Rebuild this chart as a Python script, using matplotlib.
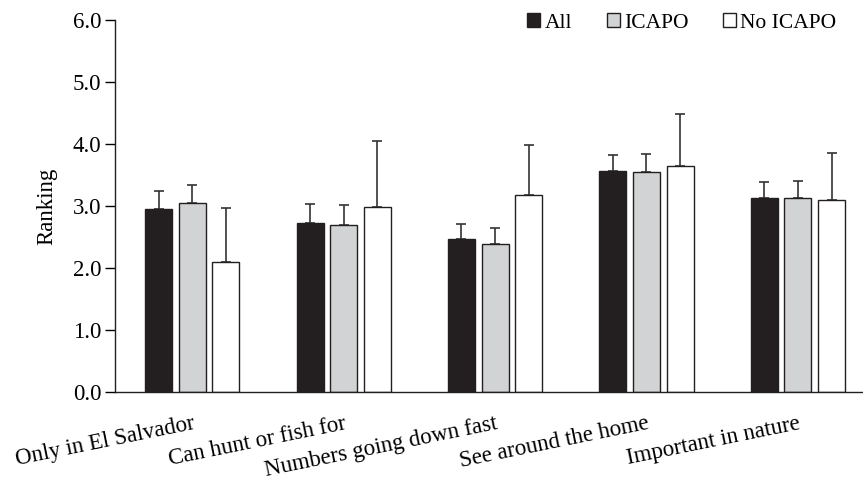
import matplotlib
matplotlib.use("Agg")
import matplotlib.pyplot as plt
import numpy as np

plt.rcParams['font.family'] = ['Liberation Serif', 'DejaVu Serif']

categories = ["Only in El Salvador", "Can hunt or fish for", "Numbers going down fast",
              "See around the home", "Important in nature"]
series_names = ["All", "ICAPO", "No ICAPO"]
all_vals = [2.95, 2.73, 2.47, 3.56, 3.12]
icapo_vals = [3.04, 2.70, 2.38, 3.55, 3.12]
noicapo_vals = [2.09, 2.99, 3.18, 3.64, 3.09]
# upper error bar lengths
all_err = [0.29, 0.30, 0.24, 0.26, 0.26]
icapo_err = [0.30, 0.31, 0.27, 0.29, 0.29]
noicapo_err = [0.87, 1.06, 0.80, 0.85, 0.77]

colors = ["#231f20", "#d1d3d4", "#ffffff"]
fs = 16.5

fig = plt.figure(figsize=(8.63, 4.84), dpi=100)
ax = fig.add_axes([0.1333, 0.19, 0.8667, 0.769])

x = np.arange(len(categories))
width = 0.178
step = 0.222
vals = [all_vals, icapo_vals, noicapo_vals]
errs = [all_err, icapo_err, noicapo_err]
for i in range(3):
    pos = x + (i - 1) * step
    e = np.array(errs[i])
    ax.bar(pos, vals[i], width, color=colors[i], edgecolor="#231f20", linewidth=1.0,
           label=series_names[i], zorder=2,
           yerr=[np.zeros_like(e), e],
           error_kw=dict(ecolor="#333333", elinewidth=1.2, capsize=3.5, capthick=1.2, zorder=1))

ax.set_xlim(-0.51, 4.43)
ax.set_ylim(0, 6)
ax.set_yticks(np.arange(0, 6.1, 1.0))
ax.set_yticklabels([f"{v:.1f}" for v in np.arange(0, 6.1, 1.0)], fontsize=fs)
ax.set_xticks(x)
ax.set_xticklabels(categories, rotation=11.5, ha="right", rotation_mode="anchor", fontsize=fs)
ax.tick_params(axis="x", length=0, pad=15)
ax.tick_params(axis="y", direction="out", length=7, width=1, pad=3)
ax.set_ylabel("Ranking", fontsize=fs, labelpad=11)

for s in ["top", "right"]:
    ax.spines[s].set_visible(False)
for s in ["left", "bottom"]:
    ax.spines[s].set_linewidth(1.0)
    ax.spines[s].set_color("#231f20")

ax.legend(loc="upper right", ncol=3, frameon=False, fontsize=15.5,
          handlelength=0.6, handleheight=0.6, handletextpad=0.2, columnspacing=1.6,
          bbox_to_anchor=(0.99, 1.07))

fig.savefig("out.png", dpi=100)
